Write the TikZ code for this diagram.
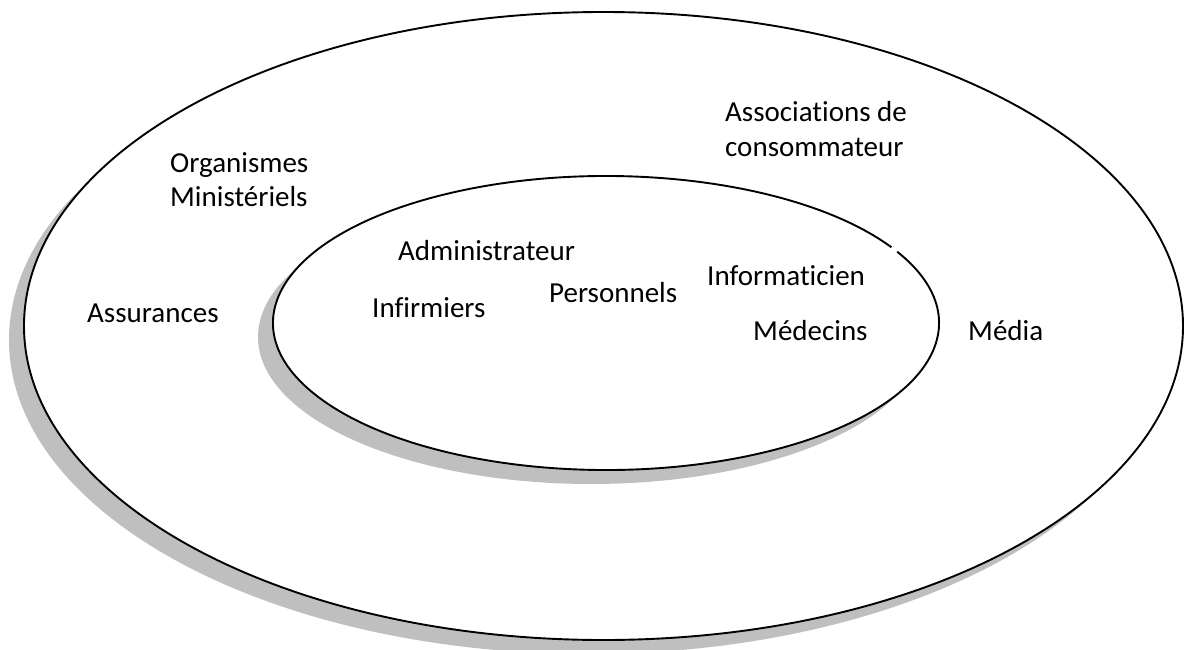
\documentclass[tikz,border=0pt]{standalone}
\usepackage{fontspec}
\setmainfont[Ligatures={NoCommon}]{Carlito}
\begin{document}
\begin{tikzpicture}[x=1pt,y=-1pt,
  ring/.style={draw=black,line width=1.9pt},
  shade/.style={fill=black!25},
  lbl/.style={anchor=base west,inner sep=0pt,align=left,
    font=\fontsize{29}{35}\selectfont}]
\useasboundingbox (0,0) rectangle (1184,650);
% outer ring with its drop shadow
\fill[shade] (588.5,340) ellipse [x radius=579.5, y radius=314];
\filldraw[ring,fill=white] (603.5,326) ellipse [x radius=579.5, y radius=314];
% inner ring with its drop shadow, drawn with a small break at upper right
\fill[shade] (591,337) ellipse [x radius=333, y radius=147];
\fill[white] (606,323) ellipse [x radius=333, y radius=147];
\draw[ring] (606,323) ++(-29:333 and 147)
  arc[start angle=-29, end angle=329, x radius=333, y radius=147];
% outer labels (two-line labels sit on the baseline of their last line)
\node[lbl] (org) at (170,207) {Organismes\\Ministériels};
\node[lbl] (ass) at (87,322) {Assurances};
\node[lbl] (asc) at (725,157) {Associations de\\consommateur};
\node[lbl] (med) at (968,340) {Média};
% inner labels
\node[lbl] (adm) at (398,260) {Administrateur};
\node[lbl] (inf) at (372,317) {Infirmiers};
\node[lbl] (per) at (549,302) {Personnels};
\node[lbl] (itc) at (707,285) {Informaticien};
\node[lbl] (doc) at (753,340) {Médecins};
\end{tikzpicture}
\end{document}
